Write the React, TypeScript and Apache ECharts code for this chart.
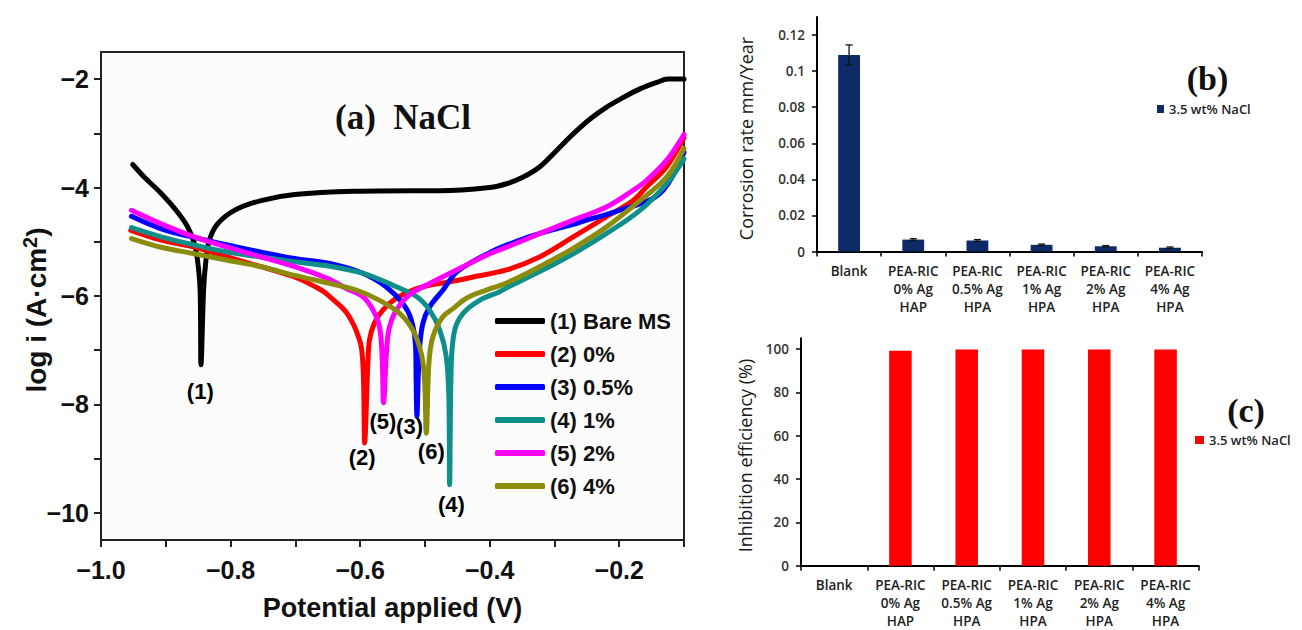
import React, { useEffect, useRef } from 'react';
import * as echarts from 'echarts';

// ---------- Panel (a): Tafel curves ----------
const potentialTickLabels = [-1.0, -0.8, -0.6, -0.4, -0.2];
const potentialTickMarks = [-1.0, -0.9, -0.8, -0.7, -0.6, -0.5, -0.4, -0.3, -0.2, -0.1];
const logTickLabels = [-10, -8, -6, -4, -2];
const logTickMarks = [-10, -9, -8, -7, -6, -5, -4, -3, -2];

const bareV = [-0.951, -0.933, -0.907, -0.882, -0.866, -0.856, -0.851, -0.847, -0.8456, -0.8416, -0.838, -0.8328, -0.82, -0.794, -0.753, -0.701, -0.609, -0.52, -0.477, -0.4, -0.374, -0.349, -0.323, -0.297, -0.271, -0.245, -0.22, -0.194, -0.168, -0.142, -0.125, -0.1];
const bareL = [-3.575, -3.81, -4.11, -4.45, -4.73, -5.03, -5.34, -5.89, -7.27, -5.89, -5.34, -4.97, -4.67, -4.42, -4.24, -4.13, -4.07, -4.06, -4.06, -4.0, -3.93, -3.81, -3.62, -3.32, -3.01, -2.735, -2.52, -2.34, -2.18, -2.06, -2.0, -2.0];

const p0V = [-0.954, -0.907, -0.856, -0.8045, -0.753, -0.701, -0.66, -0.647, -0.629, -0.6215, -0.614, -0.606, -0.598, -0.5947, -0.593, -0.588, -0.5855, -0.578, -0.565, -0.544, -0.5186, -0.4927, -0.477, -0.441, -0.426, -0.374, -0.323, -0.271, -0.22, -0.1785, -0.158, -0.127, -0.1];
const p0L = [-4.79, -4.97, -5.1, -5.28, -5.46, -5.65, -5.89, -6.01, -6.2, -6.3, -6.44, -6.64, -6.95, -7.55, -8.71, -7.24, -6.81, -6.5, -6.26, -6.04, -5.89, -5.8, -5.77, -5.69, -5.65, -5.52, -5.28, -4.91, -4.54, -4.24, -3.99, -3.62, -3.08];

const p05V = [-0.953, -0.907, -0.856, -0.8045, -0.753, -0.701, -0.647, -0.596, -0.56, -0.534, -0.521, -0.5144, -0.5135, -0.5123, -0.51, -0.508, -0.503, -0.4927, -0.472, -0.45, -0.4, -0.349, -0.297, -0.271, -0.245, -0.22, -0.194, -0.168, -0.145, -0.132, -0.117, -0.1];
const p05L = [-4.53, -4.76, -4.92, -5.06, -5.19, -5.31, -5.4, -5.58, -5.83, -6.14, -6.44, -6.93, -7.55, -8.22, -7.4, -6.93, -6.5, -6.2, -5.89, -5.55, -5.2, -4.95, -4.76, -4.68, -4.58, -4.5, -4.4, -4.3, -4.18, -4.05, -3.78, -3.35];

const p1V = [-0.953, -0.907, -0.856, -0.8045, -0.753, -0.701, -0.647, -0.596, -0.544, -0.513, -0.4927, -0.477, -0.467, -0.463, -0.4618, -0.4592, -0.454, -0.441, -0.4155, -0.3845, -0.374, -0.323, -0.271, -0.22, -0.168, -0.127, -0.1];
const p1L = [-4.74, -4.91, -5.06, -5.19, -5.28, -5.37, -5.45, -5.58, -5.83, -6.01, -6.26, -6.63, -7.12, -7.85, -9.48, -7.24, -6.63, -6.32, -6.08, -5.92, -5.85, -5.55, -5.22, -4.85, -4.42, -3.93, -3.47];

const p2V = [-0.953, -0.907, -0.856, -0.8045, -0.753, -0.701, -0.65, -0.6215, -0.596, -0.58, -0.57, -0.566, -0.5638, -0.5587, -0.5546, -0.544, -0.5237, -0.4927, -0.441, -0.4, -0.374, -0.323, -0.271, -0.22, -0.1785, -0.158, -0.127, -0.1];
const p2L = [-4.42, -4.67, -4.91, -5.1, -5.28, -5.46, -5.68, -5.86, -6.01, -6.26, -6.57, -7.12, -7.97, -6.93, -6.57, -6.26, -5.98, -5.77, -5.46, -5.22, -5.1, -4.85, -4.6, -4.36, -4.05, -3.87, -3.5, -3.02];

const p4V = [-0.953, -0.907, -0.856, -0.8045, -0.753, -0.701, -0.65, -0.606, -0.57, -0.539, -0.5186, -0.5056, -0.5005, -0.4978, -0.4938, -0.4876, -0.472, -0.455, -0.441, -0.426, -0.405, -0.374, -0.323, -0.271, -0.22, -0.168, -0.127, -0.1];
const p4L = [-4.94, -5.1, -5.22, -5.34, -5.46, -5.62, -5.76, -5.89, -6.08, -6.32, -6.63, -7.06, -7.55, -8.53, -7.24, -6.75, -6.38, -6.22, -6.08, -5.98, -5.89, -5.76, -5.46, -5.12, -4.73, -4.24, -3.81, -3.28];

const curveNames = ['(1) Bare MS', '(2) 0%', '(3) 0.5%', '(4) 1%', '(5) 2%', '(6) 4%'];
const curveColors = ['#000000', '#ff0000', '#0000ff', '#0f8f8a', '#ff00ff', '#8c8c0c'];
const curveV = [bareV, p0V, p05V, p1V, p2V, p4V];
const curveL = [bareL, p0L, p05L, p1L, p2L, p4L];

const markText = ['(1)', '(2)', '(5)', '(3)', '(6)', '(4)'];
const markV = [-0.8467, -0.5968, -0.5649, -0.5237, -0.4901, -0.4592];
const markL = [-7.77, -8.985, -8.31, -8.4, -8.86, -9.85];

// ---------- Panels (b) and (c): bars ----------
const categories = ['Blank', 'PEA-RIC\n0% Ag\nHAP', 'PEA-RIC\n0.5% Ag\nHPA', 'PEA-RIC\n1% Ag\nHPA', 'PEA-RIC\n2% Ag\nHPA', 'PEA-RIC\n4% Ag\nHPA'];
const corrosionRate = [0.109, 0.0066, 0.0061, 0.0037, 0.0029, 0.0021];
const corrosionErr = [0.0055, 0.0005, 0.0005, 0.0004, 0.0004, 0.0004];
const rateTicks = [0, 0.02, 0.04, 0.06, 0.08, 0.1, 0.12];
const inhibition = [0, 99.2, 99.8, 99.8, 99.8, 99.8];
const ieTicks = [0, 20, 40, 60, 80, 100];

const SANS = 'Liberation Sans';
const SERIF = 'Liberation Serif';
const BODY = 'Open Sans';

function minusFmt(d: number) {
  return (v: number) => (v < 0 ? '\u2212' + Math.abs(v).toFixed(d) : v.toFixed(d));
}

export default function App() {
  const ref = useRef<HTMLDivElement>(null);
  useEffect(() => {
    document.body.style.margin = '0';
    if (!ref.current) return;
    const chart = echarts.init(ref.current, undefined, { renderer: 'svg' });

    const lineSeries = curveNames.map((name, i) => ({
      type: 'line',
      name,
      xAxisIndex: 0,
      yAxisIndex: 0,
      data: curveV[i].map((v, k) => [v, curveL[i][k]]),
      showSymbol: false,
      symbol: 'none',
      smooth: 0.35,
      lineStyle: { color: curveColors[i], width: 5, cap: 'round', join: 'round' },
      itemStyle: { color: curveColors[i] },
      z: 2 + i,
      silent: true,
    }));

    const catAxisCommon = (gridIndex: number) => ({
      type: 'category',
      gridIndex,
      data: categories,
      axisLine: { show: true, lineStyle: { color: '#000', width: 2 } },
      axisTick: { show: true, length: 5, lineStyle: { color: '#000', width: 1.5 } },
      axisLabel: {
        interval: 0,
        margin: 10,
        color: '#222',
        fontFamily: BODY,
        fontWeight: 600,
        fontSize: 13.5,
        lineHeight: 18,
      },
      splitLine: { show: false },
    });

    const option: any = {
      animation: false,
      backgroundColor: '#ffffff',
      grid: [
        { left: 101, top: 52, width: 583, height: 488, show: true, borderColor: '#222', borderWidth: 2, backgroundColor: '#fcfcfc', containLabel: false, outerBoundsMode: 'none' },
        { left: 817, top: 17, width: 385, height: 234.5, containLabel: false, outerBoundsMode: 'none' },
        { left: 801, top: 338.3, width: 397.7, height: 227.4, containLabel: false, outerBoundsMode: 'none' },
      ],
      xAxis: [
        {
          type: 'value',
          gridIndex: 0,
          min: -1.0,
          max: -0.1,
          interval: 0.1,
          axisLine: { show: true, onZero: false, lineStyle: { color: '#222', width: 2 } },
          axisTick: { show: true, inside: false, length: 7, customValues: potentialTickMarks, lineStyle: { color: '#222', width: 2 } },
          axisLabel: {
            customValues: potentialTickLabels,
            formatter: minusFmt(1),
            margin: 17,
            color: '#111',
            fontFamily: SANS,
            fontWeight: 'bold',
            fontSize: 25,
          },
          splitLine: { show: false },
        },
        catAxisCommon(1),
        catAxisCommon(2),
      ],
      yAxis: [
        {
          type: 'value',
          gridIndex: 0,
          min: -10.5,
          max: -1.5,
          axisLine: { show: true, onZero: false, lineStyle: { color: '#222', width: 2 } },
          axisTick: { show: true, inside: false, length: 7, customValues: logTickMarks, lineStyle: { color: '#222', width: 2 } },
          axisLabel: {
            customValues: logTickLabels,
            formatter: minusFmt(0),
            margin: 12,
            color: '#111',
            fontFamily: SANS,
            fontWeight: 'bold',
            fontSize: 25,
          },
          splitLine: { show: false },
        },
        {
          type: 'value',
          gridIndex: 1,
          min: 0,
          max: 0.13,
          axisLine: { show: true, lineStyle: { color: '#000', width: 2 } },
          axisTick: { show: true, length: 5, customValues: rateTicks, lineStyle: { color: '#000', width: 1.5 } },
          axisLabel: {
            customValues: rateTicks,
            formatter: (v: number) => (v === 0 ? '0' : String(+v.toFixed(2))),
            margin: 12,
            color: '#333',
            fontFamily: BODY,
            fontWeight: 600,
            fontSize: 13.5,
          },
          splitLine: { show: false },
        },
        {
          type: 'value',
          gridIndex: 2,
          min: 0,
          max: 105,
          axisLine: { show: true, lineStyle: { color: '#000', width: 2 } },
          axisTick: { show: true, length: 5, customValues: ieTicks, lineStyle: { color: '#000', width: 1.5 } },
          axisLabel: {
            customValues: ieTicks,
            margin: 12,
            color: '#333',
            fontFamily: BODY,
            fontWeight: 600,
            fontSize: 13.5,
          },
          splitLine: { show: false },
        },
      ],
      legend: [
        {
          data: curveNames,
          orient: 'vertical',
          left: 495,
          top: 310,
          padding: 0,
          itemWidth: 50,
          itemHeight: 6,
          itemGap: 11,
          icon: 'roundRect',
          selectedMode: false,
          textStyle: { fontFamily: SANS, fontWeight: 'bold', fontSize: 22, lineHeight: 22, color: '#111' },
        },
        {
          data: ['b::3.5 wt% NaCl'],
          formatter: (n: string) => n.split('::')[1],
          left: 1157,
          top: 102,
          padding: 0,
          itemWidth: 7,
          itemHeight: 8,
          icon: 'rect',
          selectedMode: false,
          textStyle: { fontFamily: BODY, fontWeight: 600, fontSize: 13, lineHeight: 14, color: '#222' },
        },
        {
          data: ['c::3.5 wt% NaCl'],
          formatter: (n: string) => n.split('::')[1],
          left: 1195,
          top: 433,
          padding: 0,
          itemWidth: 9,
          itemHeight: 8,
          icon: 'rect',
          selectedMode: false,
          textStyle: { fontFamily: BODY, fontWeight: 600, fontSize: 13, lineHeight: 14, color: '#222' },
        },
      ],
      series: [
        ...lineSeries,
        {
          type: 'scatter',
          name: 'labels',
          xAxisIndex: 0,
          yAxisIndex: 0,
          data: markText.map((t, i) => [markV[i], markL[i], t]),
          symbolSize: 0.1,
          itemStyle: { color: '#fcfcfc', opacity: 1 },
          silent: true,
          z: 20,
          label: {
            show: true,
            position: 'inside',
            formatter: (p: any) => p.data[2],
            color: '#000',
            opacity: 1,
            textBorderWidth: 0,
            fontFamily: SANS,
            fontWeight: 'bold',
            fontSize: 22,
          },
        },
        {
          type: 'bar',
          name: 'b::3.5 wt% NaCl',
          xAxisIndex: 1,
          yAxisIndex: 1,
          data: corrosionRate,
          barWidth: '34%',
          itemStyle: { color: '#0b2a66' },
          silent: true,
        },
        {
          type: 'custom',
          name: 'err',
          xAxisIndex: 1,
          yAxisIndex: 1,
          data: corrosionRate.map((v, i) => [i, v - corrosionErr[i], v + corrosionErr[i]]),
          encode: { x: 0, y: [1, 2] },
          silent: true,
          z: 10,
          renderItem: (params: any, api: any) => {
            const c = api.value(0);
            const lo = api.coord([c, api.value(1)]);
            const hi = api.coord([c, api.value(2)]);
            const w = 3.5;
            const st = { stroke: '#111', lineWidth: 1.3 };
            return {
              type: 'group',
              children: [
                { type: 'line', shape: { x1: hi[0], y1: hi[1], x2: lo[0], y2: lo[1] }, style: st },
                { type: 'line', shape: { x1: hi[0] - w, y1: hi[1], x2: hi[0] + w, y2: hi[1] }, style: st },
                { type: 'line', shape: { x1: lo[0] - w, y1: lo[1], x2: lo[0] + w, y2: lo[1] }, style: st },
              ],
            };
          },
        },
        {
          type: 'bar',
          name: 'c::3.5 wt% NaCl',
          xAxisIndex: 2,
          yAxisIndex: 2,
          data: inhibition,
          barWidth: '34%',
          itemStyle: { color: '#ff0000' },
          silent: true,
        },
      ],
      graphic: [
        {
          type: 'text',
          x: 335,
          y: 117,
          style: { text: '(a)  NaCl', fontFamily: SERIF, fontWeight: 'bold', fontSize: 35, fill: '#111', align: 'left', verticalAlign: 'middle' },
        },
        {
          type: 'text',
          x: 392.5,
          y: 608,
          style: { text: 'Potential applied (V)', fontFamily: SANS, fontWeight: 'bold', fontSize: 27, fill: '#111', align: 'center', verticalAlign: 'middle' },
        },
        {
          type: 'text',
          x: 35,
          y: 310,
          rotation: Math.PI / 2,
          style: {
            text: '{m|log i (A\u00b7cm}{s|2}{m|)}',
            align: 'center',
            verticalAlign: 'middle',
            fill: '#111',
            rich: {
              m: { fontFamily: SANS, fontWeight: 'bold', fontSize: 28, lineHeight: 30, fill: '#111', verticalAlign: 'bottom' },
              s: { fontFamily: SANS, fontWeight: 'bold', fontSize: 20, lineHeight: 20, fill: '#111', verticalAlign: 'top' },
            },
          },
        },
        {
          type: 'text',
          x: 746,
          y: 138.5,
          rotation: Math.PI / 2,
          style: { text: 'Corrosion rate mm/Year', fontFamily: BODY, fontSize: 18, fill: '#1a1a1a', align: 'center', verticalAlign: 'middle' },
        },
        {
          type: 'text',
          x: 745,
          y: 455.5,
          rotation: Math.PI / 2,
          style: { text: 'Inhibition efficiency (%)', fontFamily: BODY, fontSize: 18, fill: '#1a1a1a', align: 'center', verticalAlign: 'middle' },
        },
        {
          type: 'text',
          x: 1207.5,
          y: 78,
          style: { text: '(b)', fontFamily: SERIF, fontWeight: 'bold', fontSize: 34, fill: '#111', align: 'center', verticalAlign: 'middle' },
        },
        {
          type: 'text',
          x: 1246,
          y: 410,
          style: { text: '(c)', fontFamily: SERIF, fontWeight: 'bold', fontSize: 34, fill: '#111', align: 'center', verticalAlign: 'middle' },
        },
      ],
    };

    chart.setOption(option);
    return () => chart.dispose();
  }, []);

  return <div ref={ref} style={{ width: 1302, height: 630 }} />;
}
